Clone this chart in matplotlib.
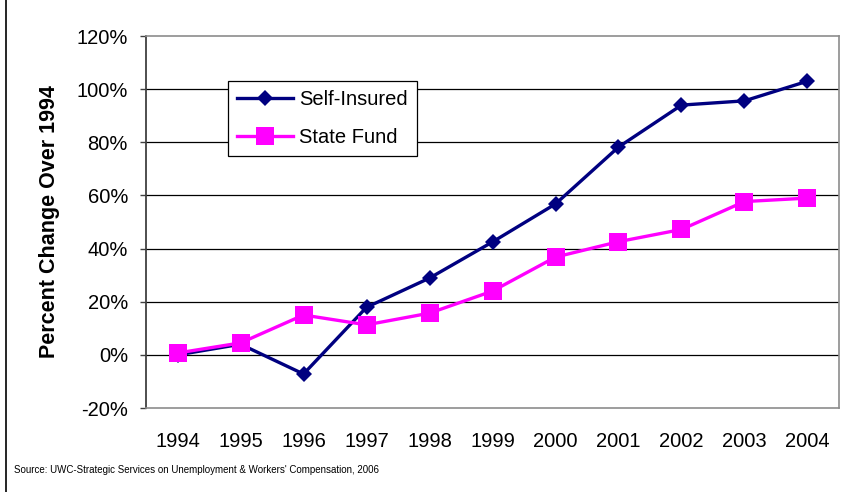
import matplotlib
matplotlib.use("Agg")
from matplotlib import pyplot as plt
from matplotlib.lines import Line2D

plt.rcParams['font.family'] = ['Liberation Sans', 'DejaVu Sans']

# data
years = ['1994', '1995', '1996', '1997', '1998', '1999', '2000', '2001', '2002', '2003', '2004']
self_insured = [0.0, 4.0, -7.2, 17.9, 28.9, 42.5, 56.8, 78.2, 94.0, 95.6, 103.0]
state_fund = [0.7, 4.5, 15.0, 11.3, 15.7, 24.0, 36.8, 42.6, 47.2, 57.7, 59.0]
y_ticks = [-20, 0, 20, 40, 60, 80, 100, 120]

fig = plt.figure(figsize=(8.62, 4.92), dpi=100)
ax = fig.add_axes([0.1694, 0.1707, 0.8039, 0.7561])

x = list(range(len(years)))

# gridlines
for v in y_ticks[1:-1]:
    ax.axhline(v, color='black', lw=0.9, zorder=1)

ax.plot(x, self_insured, color='#000080', lw=2.4, marker='D', markersize=8.6,
        markeredgewidth=0, label='Self-Insured', zorder=3)
ax.plot(x, state_fund, color='#FF00FF', lw=2.4, marker='s', markersize=13,
        markeredgewidth=0, label='State Fund', zorder=4)

ax.set_xlim(-0.5, len(years) - 0.5)
ax.set_ylim(-20, 120)
ax.set_yticks(y_ticks)
ax.set_yticklabels([f'{v}%' for v in y_ticks])
ax.set_xticks(x)
ax.set_xticklabels(years)

ax.tick_params(axis='y', direction='out', length=4, width=1, color='#404040',
               labelsize=14.5, pad=9)
ax.tick_params(axis='x', length=0, labelsize=14.5, pad=17)

for s in ['top', 'right', 'bottom']:
    ax.spines[s].set_color('#8c8c8c')
    ax.spines[s].set_linewidth(1.2)
ax.spines['left'].set_color('#404040')
ax.spines['left'].set_linewidth(1.3)

ax.set_ylabel('Percent Change Over 1994', fontsize=15.5, fontweight='bold', labelpad=12)

leg = ax.legend(loc='upper left', bbox_to_anchor=(0.118, 0.879), fontsize=14.5,
                frameon=True, fancybox=False, edgecolor='black', framealpha=1,
                borderpad=0.45, borderaxespad=0, handlelength=2.8,
                handletextpad=0.3, labelspacing=0.95)
leg.get_frame().set_linewidth(0.9)

fig.text(0.016, 0.045, "Source: UWC-Strategic Services on Unemployment & Workers' Compensation, 2006",
         fontsize=7, ha='left', va='center')

# left border of the figure
fig.add_artist(Line2D([0.0075, 0.0075], [0, 1], transform=fig.transFigure,
                      color='black', lw=1.2))

fig.savefig('out.png', dpi=100)
